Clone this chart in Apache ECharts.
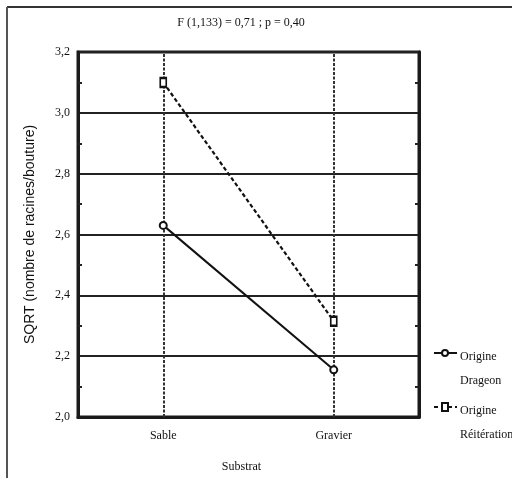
<!DOCTYPE html>
<html>
<head>
<meta charset="utf-8">
<script src="https://cdn.jsdelivr.net/npm/echarts@6/dist/echarts.min.js"></script>
<style>html,body{margin:0;padding:0;background:#fff}#c{width:512px;height:478px}</style>
</head>
<body>
<div id="c"></div>
<script>
var categories = ['Sable', 'Gravier'];
var dragonValues = [2.63, 2.155];
var reiterationValues = [3.10, 2.315];
var seriesNames = ['Origine\nDrageon', 'Origine\nRéitération'];
var yTicks = { min: 2.0, max: 3.2, interval: 0.2 };
var titleText = 'F (1,133) = 0,71 ; p = 0,40';
var xName = 'Substrat';
var yName = 'SQRT (nombre de racines/bouture)';

var serif = 'Liberation Serif';
var chart = echarts.init(document.getElementById('c'));
function fmt(v){ return v.toFixed(1).replace('.', ','); }
chart.setOption({
  animation: false,
  backgroundColor: '#fff',
  title: { text: titleText, left: 236, top: 12, textAlign: 'center',
    textStyle: { fontFamily: serif, fontSize: 12, fontWeight: 'normal', color: '#111' } },
  grid: { left: 78, right: 93, top: 52, bottom: 61, show: true, borderColor: '#1a1a1a', borderWidth: 3 },
  xAxis: [{
    type: 'category', data: categories, boundaryGap: true,
    name: xName, nameLocation: 'middle', nameGap: 44,
    nameTextStyle: { fontFamily: serif, fontSize: 12, color: '#111', padding: [0, 14, 0, 0] },
    axisLine: { lineStyle: { color: '#1a1a1a', width: 3 } },
    axisTick: { show: false },
    axisLabel: { fontFamily: serif, fontSize: 12, color: '#111', margin: 13 },
    splitLine: { show: false }
  }],
  yAxis: [{
    type: 'value', min: yTicks.min, max: yTicks.max, interval: yTicks.interval,
    name: yName, nameLocation: 'middle', nameGap: 41, nameRotate: 90,
    nameTextStyle: { fontFamily: 'Liberation Sans', fontSize: 14, color: '#111' },
    axisLine: { show: true, lineStyle: { color: '#1a1a1a', width: 3 } },
    axisTick: { show: false, inside: true },
    minorTick: { show: true, splitNumber: 2, length: 4, lineStyle: { color: '#222', width: 2 } },
    axisLabel: { fontFamily: serif, fontSize: 12, color: '#111', margin: 8, formatter: fmt },
    splitLine: { show: true, lineStyle: { color: '#222', width: 2 } }
  }, {
    type: 'value', position: 'right', min: yTicks.min, max: yTicks.max, interval: yTicks.interval,
    axisLine: { show: true, lineStyle: { color: '#1a1a1a', width: 3 } },
    axisTick: { show: false, inside: true },
    minorTick: { show: true, splitNumber: 2, length: 4, lineStyle: { color: '#222', width: 2 } },
    axisLabel: { show: false },
    splitLine: { show: false }
  }],
  series: [{
    name: seriesNames[0], type: 'line', data: dragonValues,
    symbol: 'circle', symbolSize: 7,
    itemStyle: { color: '#fff', borderColor: '#111', borderWidth: 2 },
    lineStyle: { color: '#111', width: 2, type: 'solid' },
    z: 5,
    markLine: {
      silent: true, symbol: 'none', label: { show: false },
      lineStyle: { color: '#333', width: 2, type: [3, 1.5] },
      data: [{ xAxis: categories[0] }, { xAxis: categories[1] }],
      z: 1
    }
  }, {
    name: seriesNames[1], type: 'line', data: reiterationValues,
    symbol: 'rect', symbolSize: [6, 9],
    itemStyle: { color: '#fff', borderColor: '#111', borderWidth: 2 },
    lineStyle: { color: '#111', width: 2.2, type: [4, 2.5] },
    z: 5
  }],
  graphic: [
    { type: 'line', shape: { x1: 7, y1: 7, x2: 512, y2: 7 }, style: { stroke: '#333', lineWidth: 2 } },
    { type: 'line', shape: { x1: 7, y1: 7, x2: 7, y2: 478 }, style: { stroke: '#555', lineWidth: 2 } },
    { type: 'line', shape: { x1: 434, y1: 353, x2: 457, y2: 353 }, style: { stroke: '#111', lineWidth: 2 } },
    { type: 'circle', shape: { cx: 445, cy: 353, r: 3 }, style: { fill: '#fff', stroke: '#111', lineWidth: 2 } },
    { type: 'text', left: 460, top: 345, style: { text: 'Origine\nDrageon', fontFamily: serif, fontSize: 12, lineHeight: 24, fill: '#111' } },
    { type: 'line', shape: { x1: 434, y1: 407, x2: 457, y2: 407 }, style: { stroke: '#111', lineWidth: 2, lineDash: [4, 3] } },
    { type: 'rect', shape: { x: 442, y: 403, width: 6, height: 8 }, style: { fill: '#fff', stroke: '#111', lineWidth: 2 } },
    { type: 'text', left: 460, top: 399, style: { text: 'Origine\nRéitération', fontFamily: serif, fontSize: 12, lineHeight: 24, fill: '#111' } }
  ]
});
</script>
</body>
</html>
